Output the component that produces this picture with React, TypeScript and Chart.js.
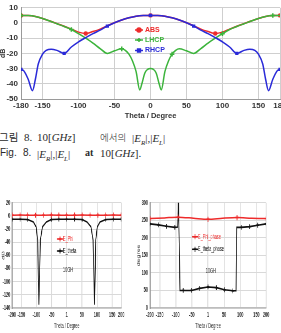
import React, { useEffect, useRef } from "react";
import { Chart, registerables } from "chart.js";
import { drawPoint } from "chart.js/helpers";
Chart.register(...registerables);

// ---------- Top chart (Fig. 8) ----------
const topTickValues = [-180, -150, -100, -50, 0, 50, 100, 150, 180];

const absTheta = [-180,-170,-160,-150,-140,-130,-120,-110,-100,-90,-80,-70,-60,-50,-40,-30,-20,-10,0,10,20,30,40,50,60,70,80,90,100,110,120,130,140,150,160,170,180];
const absDb = [5,4.9,4.3,3,1.3,-0.4,-2.1,-4.0,-6.0,-6.9,-5.6,-4.0,-1.9,0.2,2,3.4,4.4,4.9,5,4.9,4.4,3.4,2,0.2,-1.9,-4.0,-5.6,-6.9,-6.0,-4.0,-2.1,-0.4,1.3,3,4.3,4.9,5];
const absMarkers = [-180, -90, 0, 90, 180];

const lhcpTheta = [-180,-170,-160,-150,-140,-130,-120,-110,-100,-90,-80,-70,-60,-50,-40,-35,-30,-25,-20,-15,-12,-8,-4,0,4,8,12,15,20,25,30,35,40,50,60,70,80,90,100,110,120,130,140,150,160,170,180];
const lhcpDb = [5,4.9,4.3,3,1.3,-0.5,-2.3,-4.3,-7,-10,-13.2,-16.8,-20,-18.3,-17,-18,-20.5,-25,-32,-44,-40,-33,-30.5,-30,-30.5,-33,-40,-44,-32,-25,-20.5,-18,-17,-18.3,-20,-16.8,-13.2,-10,-7,-4.3,-2.3,-0.5,1.3,3,4.3,4.9,5];
const lhcpMarkers = [-180, -110, -40, 30, 100, 170];

const rhcpTheta = [-180,-176,-170,-164,-160,-156,-150,-145,-138,-130,-120,-110,-100,-90,-80,-70,-60,-50,-40,-30,-20,-10,0,10,20,30,40,50,60,70,80,90,100,110,120,130,138,145,150,156,160,164,170,176,180];
const rhcpDb = [-30.5,-31.5,-37,-44.5,-37,-27,-20.5,-18,-17.2,-18,-20,-15.8,-12.4,-9.6,-7,-4.7,-2,0.2,2,3.4,4.4,4.9,5,4.9,4.4,3.4,2,0.2,-2,-4.7,-7,-9.6,-12.4,-15.8,-20,-18,-17.2,-18,-20.5,-27,-37,-44.5,-37,-31.5,-30.5];
const rhcpMarkers = [-180, -120, -60, 0, 60, 120, 180];

// ---------- Bottom charts ----------
const bottomTickValues = [-180, -150, -100, -50, 0, 50, 100, 150, 180];
const bottomTickLabels = ["-200", "-150", "-100", "-50", "1", "50", "100", "150", "200"];
const regularMarkers = [-180,-154,-129,-103,-77,-51,-26,0,26,51,77,103,129,154,180];

const ePhiTheta = [-180,-154,-129,-103,-77,-51,-26,0,26,51,77,103,129,154,180];
const ePhiDb = [1.2,1.3,1.2,1.1,1.2,1.3,1.2,1.2,1.2,1.3,1.2,1.1,1.2,1.3,1.2];

const eThetaTheta = [-180,-154,-129,-110,-101,-96,-92,-87,-80,-67,-51,-26,0,26,51,67,80,87,92,96,101,110,129,154,180];
const eThetaDb = [-5,-5,-5.5,-9,-16.6,-36.7,-135,-36.7,-16.6,-9,-5.5,-5,-5,-5,-5.5,-9,-16.6,-36.7,-135,-36.7,-16.6,-9,-5.5,-5,-5];

const phPhiTheta = [-180,-135,-93,-45,0,45,90,135,180];
const phPhiDeg = [255,257,259,256,253,256,258,256,255];
const phPhiMarkers = [-180, -93, 0, 90, 180];

const phThetaTheta = [-180,-154,-129,-103,-94,-92,-87,-77,-51,-26,0,26,51,77,87,89,103,129,154,180];
const phThetaDeg = [240,237,233,230,231,320,50,50,50,56,60,58,52,49,49,230,230,232,236,240];

// ---------- helpers ----------
const xy = (xs: number[], ys: number[]) => xs.map((x, i) => ({ x, y: ys[i] }));
const markR = (marks: number[], r: number) => (ctx: any) =>
  ctx.raw && marks.includes(ctx.raw.x) ? r : 0;

const RED = "#ee2b2b";
const GREEN = "#3cb43c";
const BLUE = "#2a2ad8";

type Item = {
  x: number; y: number; line?: number; color?: string; pointStyle?: string; radius?: number;
  text?: string; tx?: number; font?: string; textColor?: string;
};

const makeOverlay = (items: Item[]) => ({
  id: "overlay",
  afterDatasetsDraw(chart: any) {
    const ctx = chart.ctx as CanvasRenderingContext2D;
    ctx.save();
    for (const it of items) {
      if (it.line) {
        ctx.strokeStyle = it.color!;
        ctx.fillStyle = it.color!;
        ctx.lineWidth = 1.5;
        ctx.beginPath();
        ctx.moveTo(it.x, it.y);
        ctx.lineTo(it.x + it.line, it.y);
        ctx.stroke();
        if (it.pointStyle) {
          drawPoint(ctx, { pointStyle: it.pointStyle as any, radius: it.radius ?? 2, borderWidth: 1.2, rotation: 0 }, it.x + it.line / 2, it.y);
        }
      }
      if (it.text) {
        ctx.font = it.font!;
        ctx.fillStyle = it.textColor!;
        ctx.textBaseline = "middle";
        ctx.textAlign = "left";
        ctx.fillText(it.text, it.tx ?? it.x, it.y);
      }
    }
    ctx.restore();
  },
});

const TOPFONT = "'Liberation Sans', Arial, sans-serif";
const SMALL = "'Liberation Sans', Arial, sans-serif";
const SX = 0.55; // horizontal squeeze of the two small charts

function topConfig(): any {
  const tickFont = { family: TOPFONT, size: 8, weight: "bold" as const };
  const lgFont = `bold 7px ${TOPFONT}`;
  return {
    type: "line",
    data: {
      datasets: [
        { label: "ABS", data: xy(absTheta, absDb), borderColor: RED, backgroundColor: RED, borderWidth: 1.5,
          pointStyle: "circle", pointRadius: markR(absMarkers, 2.2), pointBorderWidth: 0, cubicInterpolationMode: "monotone", order: 3 },
        { label: "LHCP", data: xy(lhcpTheta, lhcpDb), borderColor: GREEN, backgroundColor: GREEN, borderWidth: 1.5,
          pointStyle: "cross", pointRadius: markR(lhcpMarkers, 2.3), pointBorderWidth: 1.5, cubicInterpolationMode: "monotone", order: 2 },
        { label: "RHCP", data: xy(rhcpTheta, rhcpDb), borderColor: BLUE, backgroundColor: BLUE, borderWidth: 1.5,
          pointStyle: "rect", pointRadius: markR(rhcpMarkers, 2.3), pointBorderWidth: 0, cubicInterpolationMode: "monotone", order: 1 },
      ],
    },
    options: {
      animation: false, responsive: false, devicePixelRatio: 1,
      layout: { padding: { top: 7, right: 12, left: 0, bottom: 0 } },
      plugins: { legend: { display: false }, tooltip: { enabled: false } },
      scales: {
        x: {
          type: "linear", min: -180, max: 180,
          afterBuildTicks: (s: any) => { s.ticks = topTickValues.map((v) => ({ value: v })); },
          afterFit: (s: any) => { s.height = 22; },
          grid: { color: "#cfcfcf", drawTicks: false },
          border: { color: "#9a9a9a" },
          ticks: { font: tickFont, color: "#333", padding: 2, autoSkip: false, maxRotation: 0 },
          title: { display: true, text: "Theta / Degree", color: "#333", font: { family: TOPFONT, size: 7.5, weight: "bold" }, padding: { top: 0, bottom: 1 } },
        },
        y: {
          min: -50, max: 10,
          afterFit: (s: any) => { s.width = 21; },
          grid: { color: "#cfcfcf", drawTicks: false },
          border: { color: "#9a9a9a" },
          ticks: { stepSize: 10, font: tickFont, color: "#333", padding: 3 },
          title: { display: true, text: "dB", color: "#333", font: { family: TOPFONT, size: 7, weight: "bold", lineHeight: 1 }, padding: { top: 0, bottom: 0 } },
        },
      },
    },
    plugins: [
      makeOverlay([
        { x: 135, y: 30, line: 8, color: RED, pointStyle: "circle", radius: 2, text: "ABS", tx: 145, font: lgFont, textColor: RED },
        { x: 135, y: 40, line: 8, color: GREEN, pointStyle: "cross", radius: 2, text: "LHCP", tx: 145, font: lgFont, textColor: GREEN },
        { x: 135, y: 50.5, line: 8, color: BLUE, pointStyle: "rect", radius: 2, text: "RHCP", tx: 145, font: lgFont, textColor: BLUE },
      ]),
    ],
  };
}

// all x numbers below are in the un-squeezed (logical) canvas space: page px / SX
function bottomScales(yMin: number, yMax: number, step: number, yTitle: string, yTitlePad: number, yWidth: number): any {
  const tf = { family: SMALL, size: 7, weight: "bold" as const };
  return {
    x: {
      type: "linear", min: -180, max: 180,
      afterBuildTicks: (s: any) => { s.ticks = bottomTickValues.map((v) => ({ value: v })); },
      afterFit: (s: any) => { s.height = 25; },
      grid: { color: "#d9d9d9", drawTicks: false, lineWidth: 1.6 },
      border: { color: "#bdbdbd", width: 1.6 },
      ticks: { font: tf, color: "#333", padding: 3, autoSkip: false, maxRotation: 0,
        callback: (_v: any, i: number) => bottomTickLabels[i] },
      title: { display: true, text: "Theta / Degree", color: "#333", font: { family: SMALL, size: 7, lineHeight: 1.2 }, padding: { top: 0, bottom: 2.5 } },
    },
    y: {
      min: yMin, max: yMax,
      afterFit: (s: any) => { s.width = yWidth; },
      grid: { color: "#d9d9d9", drawTicks: false },
      border: { color: "#8a8a8a", width: 1.8 },
      ticks: { stepSize: step, font: tf, color: "#333", padding: 3.6 },
      title: { display: true, text: yTitle, color: "#333", font: { family: SMALL, size: 7, lineHeight: 1 }, padding: { top: yTitlePad, bottom: 0 } },
    },
  };
}

function leftConfig(): any {
  const f = `7px ${SMALL}`;
  return {
    type: "line",
    data: {
      datasets: [
        { label: "E_Phi", data: xy(ePhiTheta, ePhiDb), borderColor: RED, backgroundColor: RED, borderWidth: 1.5,
          pointStyle: "cross", pointRadius: 2.6, pointBorderWidth: 1.4, tension: 0 },
        { label: "E_theta", data: xy(eThetaTheta, eThetaDb), borderColor: "#111", backgroundColor: "#111", borderWidth: 1.6,
          pointStyle: "cross", pointRadius: markR(regularMarkers, 2.2), pointBorderWidth: 1.2, tension: 0 },
      ],
    },
    options: {
      animation: false, responsive: false, devicePixelRatio: 1,
      layout: { padding: { top: 7, right: 10.8 / SX, left: 0, bottom: 0 } },
      plugins: { legend: { display: false }, tooltip: { enabled: false } },
      scales: bottomScales(-140, 20, 20, "dB", 2.5, 12.2 / SX),
    },
    plugins: [
      makeOverlay([
        { x: 57 / SX, y: 44, line: 6 / SX, color: RED, pointStyle: "cross", radius: 2.6, text: "E_Phi", tx: 63 / SX, font: f, textColor: RED },
        { x: 57 / SX, y: 56, line: 6 / SX, color: "#111", pointStyle: "cross", radius: 2.6, text: "E_theta", tx: 63 / SX, font: f, textColor: "#111" },
        { x: 63 / SX, y: 75, text: "10GH", tx: 63 / SX, font: f, textColor: "#222" },
      ]),
    ],
  };
}

function rightConfig(): any {
  const f = `7px ${SMALL}`;
  return {
    type: "line",
    data: {
      datasets: [
        { label: "E_Phi_phase", data: xy(phPhiTheta, phPhiDeg), borderColor: RED, backgroundColor: RED, borderWidth: 1.5,
          pointStyle: "cross", pointRadius: markR(phPhiMarkers, 2.6), pointBorderWidth: 1.4, tension: 0.3 },
        { label: "E_theta_phase", data: xy(phThetaTheta, phThetaDeg), borderColor: "#111", backgroundColor: "#111", borderWidth: 1.6,
          pointStyle: "cross", pointRadius: markR(regularMarkers, 2.4), pointBorderWidth: 1.3, tension: 0 },
      ],
    },
    options: {
      animation: false, responsive: false, devicePixelRatio: 1,
      layout: { padding: { top: 6, right: 15 / SX, left: 0, bottom: 0 } },
      plugins: { legend: { display: false }, tooltip: { enabled: false } },
      scales: bottomScales(0, 300, 50, "degree", 8.3, 18 / SX),
    },
    plugins: [
      makeOverlay([
        { x: 60 / SX, y: 41.7, line: 6 / SX, color: RED, pointStyle: "cross", radius: 2.6, text: "E_Phi_phase", tx: 66 / SX, font: f, textColor: RED },
        { x: 60 / SX, y: 54.3, line: 6 / SX, color: "#111", pointStyle: "cross", radius: 2.6, text: "E_theta_phase", tx: 66 / SX, font: f, textColor: "#111" },
        { x: 73.7 / SX, y: 76, text: "10GH", tx: 73.7 / SX, font: f, textColor: "#222" },
      ]),
    ],
  };
}

function ChartBox({ make, left, top, width, height, sx = 1 }: { make: () => any; left: number; top: number; width: number; height: number; sx?: number }) {
  const ref = useRef<HTMLCanvasElement>(null);
  const w = Math.round(width / sx);
  useEffect(() => {
    const chart = new Chart(ref.current as HTMLCanvasElement, make());
    return () => chart.destroy();
  }, [make]);
  return (
    <div style={{ position: "absolute", left, top, width: w, height, transform: `scaleX(${sx})`, transformOrigin: "0 0" }}>
      <canvas ref={ref} width={w} height={height} style={{ width: w, height, display: "block" }} />
    </div>
  );
}

const SERIF = "'Liberation Serif', 'Times New Roman', serif";
const KR = "'Noto Sans CJK KR', sans-serif";
const SANS = "'Liberation Sans', Arial, sans-serif";

function Word({ x, y, children, style }: { x: number; y: number; children: any; style?: any }) {
  return (
    <span style={{ position: "absolute", left: x, top: y, whiteSpace: "nowrap", lineHeight: "14px", color: "#2a2a2a", ...style }}>
      {children}
    </span>
  );
}

const sub = { fontSize: 7, position: "relative" as const, top: 3 };
function EAbs() {
  return (
    <span style={{ fontFamily: SERIF, fontSize: 11 }}>
      |<i>E</i><i style={sub}>R</i>|,|<i>E</i><i style={sub}>L</i>|
    </span>
  );
}

export default function App() {
  return (
    <div style={{ position: "absolute", left: 0, top: 0, width: 281, height: 333, overflow: "hidden", background: "#fff" }}>
      <ChartBox make={topConfig} left={0} top={0} width={292} height={121} />
      <Word x={-1} y={130} style={{ fontFamily: KR, fontSize: 10.5 }}>그림</Word>
      <Word x={24} y={130} style={{ fontFamily: SERIF, fontSize: 11 }}>8.</Word>
      <Word x={37} y={130} style={{ fontFamily: SERIF, fontSize: 11 }}>10[<i>GHz</i>]</Word>
      <Word x={100} y={130} style={{ fontFamily: KR, fontSize: 9.5, fontWeight: 300 }}>에서의</Word>
      <Word x={132} y={130}><EAbs /></Word>
      <Word x={0} y={146} style={{ fontFamily: SANS, fontSize: 10 }}>Fig.</Word>
      <Word x={23} y={146} style={{ fontFamily: SANS, fontSize: 10 }}>8.</Word>
      <Word x={37} y={146}><EAbs /></Word>
      <Word x={85} y={146} style={{ fontFamily: SERIF, fontSize: 10, fontWeight: "bold" }}>at</Word>
      <Word x={100} y={146} style={{ fontFamily: SERIF, fontSize: 11 }}>10[<i>GHz</i>].</Word>
      <ChartBox make={leftConfig} left={0} top={195} width={132} height={138} sx={SX} />
      <ChartBox make={rightConfig} left={132} top={195} width={149} height={138} sx={SX} />
    </div>
  );
}
